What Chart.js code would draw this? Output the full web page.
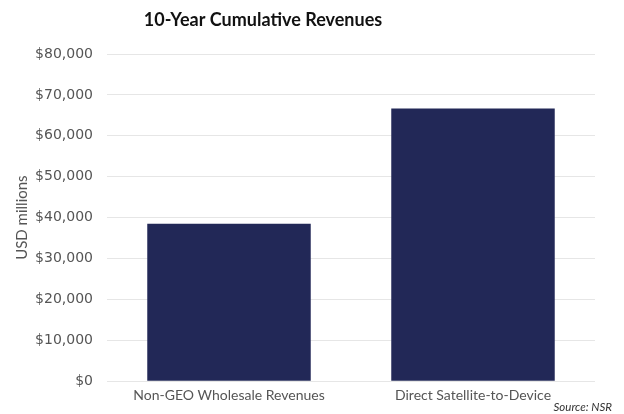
<!DOCTYPE html>
<html>
<head>
<meta charset="utf-8">
<script src="https://cdn.jsdelivr.net/npm/chart.js@4/dist/chart.umd.min.js"></script>
<style>
  html, body { margin: 0; padding: 0; background: #fff; }
  #wrap { width: 624px; height: 414px; }
</style>
</head>
<body>
<div id="wrap"><canvas id="revChart"></canvas></div>
<script>
// 10-year cumulative revenues, USD millions
const categories = ['Non-GEO Wholesale Revenues', 'Direct Satellite-to-Device'];
const revenues = [38500, 66700];
const chartTitle = '10-Year Cumulative Revenues';
const sourceNote = 'Source: NSR';

// title sits left of centre and the source note runs past the plot, so draw them here
const textPlugin = {
  id: 'textPlugin',
  afterDraw(chart) {
    const ctx = chart.ctx;
    ctx.save();
    ctx.fillStyle = '#111';
    ctx.font = 'bold 18px Lato';
    ctx.textAlign = 'center';
    ctx.textBaseline = 'middle';
    ctx.fillText(chartTitle, 263, 20);
    ctx.fillStyle = '#333';
    ctx.font = 'italic 11.5px Lato';
    ctx.textAlign = 'right';
    ctx.fillText(sourceNote, 612, 407);
    ctx.restore();
  }
};

const revChart = new Chart(document.getElementById('revChart'), {
  type: 'bar',
  data: {
    labels: categories,
    datasets: [{
      data: revenues,
      backgroundColor: '#222857',
      categoryPercentage: 0.67,
      barPercentage: 1.0,
    }]
  },
  plugins: [textPlugin],
  options: {
    responsive: true,
    maintainAspectRatio: false,
    animation: false,
    layout: { padding: { left: 9, right: 29, top: 54, bottom: 4 } },
    plugins: {
      legend: { display: false },
      tooltip: { enabled: false },
    },
    scales: {
      x: {
        grid: { display: false, drawTicks: false },
        border: { display: false },
        ticks: {
          color: '#555',
          font: { family: 'Lato', size: 14 },
          padding: 6,
        },
      },
      y: {
        min: 0,
        max: 80000,
        border: { display: false },
        grid: { color: '#e6e6e6', drawTicks: false },
        afterFit: (s) => { s.width = 98; },
        ticks: {
          stepSize: 10000,
          color: '#555',
          font: { family: 'DejaVu Sans', size: 14 },
          padding: 14,
          callback: (v) => '$' + v.toLocaleString('en-US'),
        },
        title: {
          display: true,
          text: 'USD millions',
          color: '#555',
          font: { family: 'Lato', size: 15 },
          padding: { bottom: 6 },
        },
      },
    },
  },
});
</script>
</body>
</html>
